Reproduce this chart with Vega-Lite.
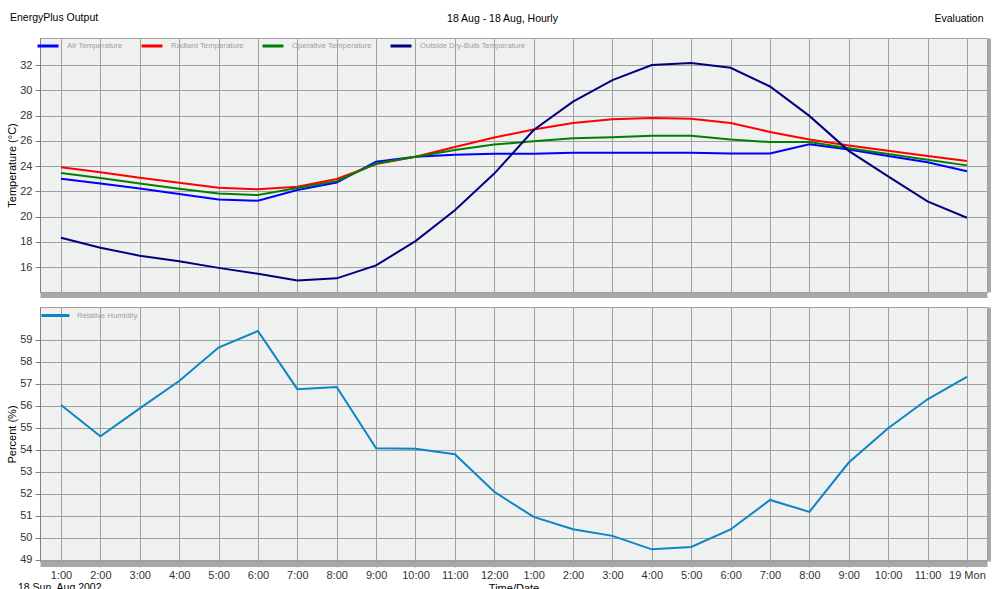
{
  "$schema": "https://vega.github.io/schema/vega-lite/v6.json",
  "padding": {"left": 6, "top": 12, "right": 0, "bottom": 0},
  "background": "white",
  "spacing": 15,
  "bounds": "flush",
  "title": {"text": "EnergyPlus Output", "anchor": "start", "frame": "group", "dx": -30, "dy": 15, "fontSize": 10.5, "fontWeight": "normal", "color": "#000"},
  "datasets": {
    "temp": [
      {"hour": 1, "series": "Air Temperature", "value": 23.0}, {"hour": 1, "series": "Radiant Temperature", "value": 23.9}, {"hour": 1, "series": "Operative Temperature", "value": 23.44}, {"hour": 1, "series": "Outside Dry-Bulb Temperature", "value": 18.32},
      {"hour": 2, "series": "Air Temperature", "value": 22.62}, {"hour": 2, "series": "Radiant Temperature", "value": 23.5}, {"hour": 2, "series": "Operative Temperature", "value": 23.05}, {"hour": 2, "series": "Outside Dry-Bulb Temperature", "value": 17.52},
      {"hour": 3, "series": "Air Temperature", "value": 22.22}, {"hour": 3, "series": "Radiant Temperature", "value": 23.07}, {"hour": 3, "series": "Operative Temperature", "value": 22.62}, {"hour": 3, "series": "Outside Dry-Bulb Temperature", "value": 16.9},
      {"hour": 4, "series": "Air Temperature", "value": 21.78}, {"hour": 4, "series": "Radiant Temperature", "value": 22.68}, {"hour": 4, "series": "Operative Temperature", "value": 22.2}, {"hour": 4, "series": "Outside Dry-Bulb Temperature", "value": 16.46},
      {"hour": 5, "series": "Air Temperature", "value": 21.35}, {"hour": 5, "series": "Radiant Temperature", "value": 22.28}, {"hour": 5, "series": "Operative Temperature", "value": 21.83}, {"hour": 5, "series": "Outside Dry-Bulb Temperature", "value": 15.93},
      {"hour": 6, "series": "Air Temperature", "value": 21.25}, {"hour": 6, "series": "Radiant Temperature", "value": 22.15}, {"hour": 6, "series": "Operative Temperature", "value": 21.7}, {"hour": 6, "series": "Outside Dry-Bulb Temperature", "value": 15.46},
      {"hour": 7, "series": "Air Temperature", "value": 22.1}, {"hour": 7, "series": "Radiant Temperature", "value": 22.36}, {"hour": 7, "series": "Operative Temperature", "value": 22.25}, {"hour": 7, "series": "Outside Dry-Bulb Temperature", "value": 14.93},
      {"hour": 8, "series": "Air Temperature", "value": 22.7}, {"hour": 8, "series": "Radiant Temperature", "value": 22.97}, {"hour": 8, "series": "Operative Temperature", "value": 22.8}, {"hour": 8, "series": "Outside Dry-Bulb Temperature", "value": 15.1},
      {"hour": 9, "series": "Air Temperature", "value": 24.34}, {"hour": 9, "series": "Radiant Temperature", "value": 24.15}, {"hour": 9, "series": "Operative Temperature", "value": 24.2}, {"hour": 9, "series": "Outside Dry-Bulb Temperature", "value": 16.13},
      {"hour": 10, "series": "Air Temperature", "value": 24.74}, {"hour": 10, "series": "Radiant Temperature", "value": 24.74}, {"hour": 10, "series": "Operative Temperature", "value": 24.74}, {"hour": 10, "series": "Outside Dry-Bulb Temperature", "value": 18.05},
      {"hour": 11, "series": "Air Temperature", "value": 24.9}, {"hour": 11, "series": "Radiant Temperature", "value": 25.5}, {"hour": 11, "series": "Operative Temperature", "value": 25.27}, {"hour": 11, "series": "Outside Dry-Bulb Temperature", "value": 20.5},
      {"hour": 12, "series": "Air Temperature", "value": 24.98}, {"hour": 12, "series": "Radiant Temperature", "value": 26.26}, {"hour": 12, "series": "Operative Temperature", "value": 25.7}, {"hour": 12, "series": "Outside Dry-Bulb Temperature", "value": 23.4},
      {"hour": 13, "series": "Air Temperature", "value": 24.98}, {"hour": 13, "series": "Radiant Temperature", "value": 26.9}, {"hour": 13, "series": "Operative Temperature", "value": 25.96}, {"hour": 13, "series": "Outside Dry-Bulb Temperature", "value": 26.85},
      {"hour": 14, "series": "Air Temperature", "value": 25.06}, {"hour": 14, "series": "Radiant Temperature", "value": 27.4}, {"hour": 14, "series": "Operative Temperature", "value": 26.2}, {"hour": 14, "series": "Outside Dry-Bulb Temperature", "value": 29.1},
      {"hour": 15, "series": "Air Temperature", "value": 25.06}, {"hour": 15, "series": "Radiant Temperature", "value": 27.7}, {"hour": 15, "series": "Operative Temperature", "value": 26.28}, {"hour": 15, "series": "Outside Dry-Bulb Temperature", "value": 30.8},
      {"hour": 16, "series": "Air Temperature", "value": 25.06}, {"hour": 16, "series": "Radiant Temperature", "value": 27.8}, {"hour": 16, "series": "Operative Temperature", "value": 26.4}, {"hour": 16, "series": "Outside Dry-Bulb Temperature", "value": 32.0},
      {"hour": 17, "series": "Air Temperature", "value": 25.06}, {"hour": 17, "series": "Radiant Temperature", "value": 27.74}, {"hour": 17, "series": "Operative Temperature", "value": 26.4}, {"hour": 17, "series": "Outside Dry-Bulb Temperature", "value": 32.16},
      {"hour": 18, "series": "Air Temperature", "value": 25.0}, {"hour": 18, "series": "Radiant Temperature", "value": 27.4}, {"hour": 18, "series": "Operative Temperature", "value": 26.1}, {"hour": 18, "series": "Outside Dry-Bulb Temperature", "value": 31.78},
      {"hour": 19, "series": "Air Temperature", "value": 25.0}, {"hour": 19, "series": "Radiant Temperature", "value": 26.7}, {"hour": 19, "series": "Operative Temperature", "value": 25.9}, {"hour": 19, "series": "Outside Dry-Bulb Temperature", "value": 30.3},
      {"hour": 20, "series": "Air Temperature", "value": 25.73}, {"hour": 20, "series": "Radiant Temperature", "value": 26.1}, {"hour": 20, "series": "Operative Temperature", "value": 25.9}, {"hour": 20, "series": "Outside Dry-Bulb Temperature", "value": 27.97},
      {"hour": 21, "series": "Air Temperature", "value": 25.3}, {"hour": 21, "series": "Radiant Temperature", "value": 25.62}, {"hour": 21, "series": "Operative Temperature", "value": 25.4}, {"hour": 21, "series": "Outside Dry-Bulb Temperature", "value": 25.2},
      {"hour": 22, "series": "Air Temperature", "value": 24.8}, {"hour": 22, "series": "Radiant Temperature", "value": 25.2}, {"hour": 22, "series": "Operative Temperature", "value": 24.95}, {"hour": 22, "series": "Outside Dry-Bulb Temperature", "value": 23.18},
      {"hour": 23, "series": "Air Temperature", "value": 24.3}, {"hour": 23, "series": "Radiant Temperature", "value": 24.8}, {"hour": 23, "series": "Operative Temperature", "value": 24.5}, {"hour": 23, "series": "Outside Dry-Bulb Temperature", "value": 21.2},
      {"hour": 24, "series": "Air Temperature", "value": 23.58}, {"hour": 24, "series": "Radiant Temperature", "value": 24.4}, {"hour": 24, "series": "Operative Temperature", "value": 24.05}, {"hour": 24, "series": "Outside Dry-Bulb Temperature", "value": 19.9}
    ],
    "rh": [
      {"hour": 1, "series": "Relative Humidity", "value": 56.03}, {"hour": 2, "series": "Relative Humidity", "value": 54.61}, {"hour": 3, "series": "Relative Humidity", "value": 55.88}, {"hour": 4, "series": "Relative Humidity", "value": 57.12},
      {"hour": 5, "series": "Relative Humidity", "value": 58.64}, {"hour": 6, "series": "Relative Humidity", "value": 59.39}, {"hour": 7, "series": "Relative Humidity", "value": 56.75}, {"hour": 8, "series": "Relative Humidity", "value": 56.85},
      {"hour": 9, "series": "Relative Humidity", "value": 54.07}, {"hour": 10, "series": "Relative Humidity", "value": 54.05}, {"hour": 11, "series": "Relative Humidity", "value": 53.8}, {"hour": 12, "series": "Relative Humidity", "value": 52.09},
      {"hour": 13, "series": "Relative Humidity", "value": 50.95}, {"hour": 14, "series": "Relative Humidity", "value": 50.39}, {"hour": 15, "series": "Relative Humidity", "value": 50.09}, {"hour": 16, "series": "Relative Humidity", "value": 49.48},
      {"hour": 17, "series": "Relative Humidity", "value": 49.59}, {"hour": 18, "series": "Relative Humidity", "value": 50.38}, {"hour": 19, "series": "Relative Humidity", "value": 51.72}, {"hour": 20, "series": "Relative Humidity", "value": 51.18},
      {"hour": 21, "series": "Relative Humidity", "value": 53.42}, {"hour": 22, "series": "Relative Humidity", "value": 54.98}, {"hour": 23, "series": "Relative Humidity", "value": 56.29}, {"hour": 24, "series": "Relative Humidity", "value": 57.31}
    ]
  },
  "vconcat": [
    {
      "width": 947,
      "height": 254,
      "title": {"text": "18 Aug - 18 Aug, Hourly", "anchor": "middle", "frame": "group", "dx": -11, "dy": 23, "offset": 12, "fontSize": 10.5, "fontWeight": "normal", "color": "#000"},
      "data": {"name": "temp"},
      "layer": [
        {
          "mark": {"type": "line", "strokeWidth": 2},
          "encoding": {
            "x": {
              "field": "hour", "type": "quantitative",
              "scale": {"domain": [0.467, 24.51], "nice": false, "zero": false},
              "axis": {
                "values": [1,2,3,4,5,6,7,8,9,10,11,12,13,14,15,16,17,18,19,20,21,22,23,24],
                "labels": false, "ticks": false,
                "domainColor": "#a8a8a8", "domainWidth": 5, "offset": 3,
                "title": "Evaluation", "titleX": 943, "titleY": -277, "titleAlign": "right", "titleBaseline": "middle",
                "titleFontSize": 10.5, "titleFontWeight": "normal", "titleColor": "#000"
              }
            },
            "y": {
              "field": "value", "type": "quantitative",
              "scale": {"domain": [14.02, 34.14], "nice": false, "zero": false},
              "axis": {"values": [16,18,20,22,24,26,28,30,32], "title": "Temperature (°C)", "tickSize": 5, "labelPadding": 3, "titlePadding": 2}
            },
            "color": {
              "field": "series", "type": "nominal",
              "scale": {"domain": ["Air Temperature", "Radiant Temperature", "Operative Temperature", "Outside Dry-Bulb Temperature"], "range": ["#0000ff", "#ff0000", "#008000", "#000080"]},
              "legend": {"title": null, "orient": "none", "legendX": -4, "legendY": -4, "direction": "horizontal", "symbolType": "stroke", "symbolStrokeWidth": 3, "symbolSize": 441, "labelColor": "#a0a0a0", "labelFontSize": 7.8, "columnPadding": 12, "labelOffset": 7}
            }
          }
        },
        {
          "mark": {"type": "line", "opacity": 0},
          "encoding": {
            "x": {"field": "hour", "type": "quantitative"},
            "y": {
              "field": "value", "type": "quantitative",
              "axis": {"orient": "right", "labels": false, "ticks": false, "grid": false, "title": null, "domainColor": "#a8a8a8", "domainWidth": 5, "offset": 3}
            },
            "detail": {"field": "series"}
          }
        }
      ],
      "resolve": {"axis": {"y": "independent"}}
    },
    {
      "width": 947,
      "height": 254,
      "title": {"text": "18 Sun, Aug 2002", "orient": "bottom", "anchor": "start", "frame": "group", "dx": -22, "dy": -14, "fontSize": 10.5, "fontWeight": "normal", "color": "#000"},
      "data": {"name": "rh"},
      "layer": [
        {
          "mark": {"type": "line", "strokeWidth": 2},
          "encoding": {
            "x": {
              "field": "hour", "type": "quantitative",
              "scale": {"domain": [0.467, 24.51], "nice": false, "zero": false},
              "axis": {
                "values": [1,2,3,4,5,6,7,8,9,10,11,12,13,14,15,16,17,18,19,20,21,22,23,24],
                "labelExpr": "datum.value == 24 ? '19 Mon' : ((datum.value - 1) % 12 + 1) + ':00'",
                "tickSize": 3, "tickColor": "#a0a0a0", "labelPadding": 2,
                "domainColor": "#a8a8a8", "domainWidth": 5, "offset": 3,
                "title": "Time/Date", "titlePadding": 2
              }
            },
            "y": {
              "field": "value", "type": "quantitative",
              "scale": {"domain": [48.95, 60.48], "nice": false, "zero": false},
              "axis": {"values": [49,50,51,52,53,54,55,56,57,58,59], "title": "Percent (%)", "tickSize": 5, "labelPadding": 3, "titlePadding": 2}
            },
            "color": {
              "field": "series", "type": "nominal",
              "scale": {"domain": ["Relative Humidity"], "range": ["#0c84c6"]},
              "legend": {"title": null, "orient": "none", "legendX": 0, "legendY": -7, "direction": "horizontal", "symbolType": "stroke", "symbolStrokeWidth": 3, "symbolSize": 784, "labelColor": "#a0a0a0", "labelFontSize": 7.8, "labelOffset": 6}
            }
          }
        },
        {
          "mark": {"type": "line", "opacity": 0},
          "encoding": {
            "x": {"field": "hour", "type": "quantitative"},
            "y": {
              "field": "value", "type": "quantitative",
              "axis": {"orient": "right", "labels": false, "ticks": false, "grid": false, "title": null, "domainColor": "#a8a8a8", "domainWidth": 5, "offset": 3}
            }
          }
        }
      ],
      "resolve": {"axis": {"y": "independent"}}
    }
  ],
  "resolve": {"scale": {"color": "independent"}},
  "config": {
    "font": "Liberation Sans",
    "view": {"fill": "#eff0f0", "stroke": "#a0a0a0"},
    "axis": {"gridColor": "#a0a0a0", "gridOpacity": 1, "gridWidth": 1, "labelFontSize": 11, "labelColor": "#333333", "titleFontSize": 11, "titleFontWeight": "normal", "titleColor": "#000000", "domainColor": "#808080", "tickColor": "#808080"}
  }
}
